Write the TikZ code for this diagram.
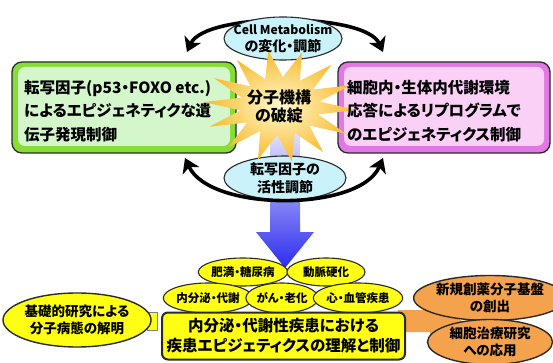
\documentclass[tikz,border=0pt]{standalone}
\usepackage{fontspec}
\setmainfont{Noto Sans CJK JP}[RawFeature={+palt}]
\usetikzlibrary{shapes.geometric,arrows.meta}
\definecolor{gband}{HTML}{86DE34}
\definecolor{gpale}{HTML}{D3F7CB}
\definecolor{pband}{HTML}{E278E4}
\definecolor{ppale}{HTML}{FAD0F7}
\definecolor{cyanfill}{HTML}{C9F2FA}
\definecolor{yfill}{HTML}{FFFF14}
\definecolor{ofill}{HTML}{F5A24C}
\definecolor{starin}{HTML}{FFF9D0}
\definecolor{starout}{HTML}{F8BA2C}
\definecolor{bluetop}{HTML}{ECECFF}
\definecolor{bluebot}{HTML}{2C2CEE}
\definecolor{dark}{HTML}{2A2A2A}
\tikzset{
  outerbox/.style={rounded corners=10pt, draw=dark, line width=1.3pt, inner sep=0pt},
  innerbox/.style={rounded corners=7pt, inner sep=0pt},
  ell/.style={ellipse, draw=dark, line width=1.1pt, inner sep=0pt},
  bendarrow/.style={line width=3.6pt, black, {Stealth[length=14pt,width=18pt,inset=4pt]}-{Stealth[length=14pt,width=18pt,inset=4pt]}},
  txt/.style={align=center, inner sep=0pt},
  boxtxt/.style={align=left, inner sep=0pt, font=\fontsize{15.5}{23.5}\selectfont\bfseries},
}
\begin{document}
\begin{tikzpicture}[x=1pt,y=-1pt]
\useasboundingbox (0,0) rectangle (553,363);
% blue arrow
\shade[top color=bluetop, bottom color=bluebot] (270,125) -- (300,125) -- (300,232) -- (314,232) -- (285,268) -- (256,232) -- (270,232) -- cycle;
% green box
\node[outerbox, fill=gband, minimum width=224pt, minimum height=91pt] (gb) at (124,107.5) {};
\node[innerbox, fill=gpale, minimum width=212pt, minimum height=79pt] (gi) at (124,106.5) {};
% pink box
\node[outerbox, fill=pband, minimum width=212pt, minimum height=91pt] (pb) at (444,107.5) {};
\node[innerbox, fill=ppale, minimum width=200pt, minimum height=79pt] (pi) at (444,106.5) {};
% top arc
\draw[bendarrow] (187,52) .. controls (205,12) and (365,12) .. (383,52);
% ellipses
\node[ell, fill=cyanfill, minimum width=118pt, minimum height=43pt] (te) at (283,38.5) {};
\node[ell, fill=cyanfill, minimum width=122pt, minimum height=44pt] (be) at (285,178) {};
% lower arc
\draw[bendarrow] (185,158) .. controls (210,212) and (360,212) .. (383,158);
% star
\shade[inner color=starin, outer color=starout]
  plot[samples at={0,...,27}, variable=\k]
  ({280 + (mod(\k,2)==0 ? 76 : 40)*cos(\k*180/14 + 4)},
   {106 + (mod(\k,2)==0 ? 56 : 29)*sin(\k*180/14 + 4)}) -- cycle;
\node[txt, font=\fontsize{16}{18}\selectfont\bfseries] (st) at (279,106) {分子機構\\の破綻};
% ellipse texts
\node[txt, font=\fontsize{12.2}{17}\selectfont\bfseries] (tet) at (te) {Cell Metabolism\\{\fontsize{14}{17}\selectfont の変化・調節}};
\node[txt, font=\fontsize{14}{18}\selectfont\bfseries] (bet) at (be) {転写因子の\\活性調節};
% box texts
\node[boxtxt, anchor=west] (gt) at (24,111) {転写因子(p53・FOXO etc.)\\によるエピジェネティクな遺\\伝子発現制御};
\node[boxtxt, anchor=west] (pt) at (347,111) {細胞内・生体内代謝環境\\応答によるリプログラムで\\のエピジェネティクス制御};
% orange arrow
\fill[ofill] (398,310) -- (430,310) -- (430,299) -- (462,321) -- (430,343) -- (430,332) -- (398,332) -- cycle;
% small ovals
\node[ell, fill=yfill, minimum width=80pt, minimum height=28pt, font=\fontsize{11.5}{13}\selectfont\bfseries] (o1) at (243,272) {肥満・糖尿病};
\node[ell, fill=yfill, minimum width=78pt, minimum height=28pt, font=\fontsize{11.5}{13}\selectfont\bfseries] (o2) at (326,272) {動脈硬化};
\node[ell, fill=yfill, minimum width=78pt, minimum height=30pt, font=\fontsize{11.5}{13}\selectfont\bfseries] (o3) at (208,298) {内分泌・代謝};
\node[ell, fill=yfill, minimum width=70pt, minimum height=30pt, font=\fontsize{11.5}{13}\selectfont\bfseries] (o4) at (282,298) {がん・老化};
\node[ell, fill=yfill, minimum width=85pt, minimum height=30pt, font=\fontsize{11.5}{13}\selectfont\bfseries] (o5) at (358,298) {心・血管疾患};
% main yellow box
\node[rounded corners=6pt, draw=dark, line width=2pt, fill=yfill, minimum width=243pt, minimum height=47pt, txt, font=\fontsize{15.5}{20}\selectfont\bfseries] (yb) at (283.5,336) {内分泌・代謝性疾患における\\疾患エピジェティクスの理解と制御};
% small square
\node[draw=black!50, fill=yfill, line width=0.6pt, minimum width=10pt, minimum height=18pt, inner sep=0pt] (sq) at (152,321) {};
% left ellipse
\node[ell, fill=yfill, line width=1.4pt, minimum width=126pt, minimum height=54pt, txt, font=\fontsize{13.5}{17}\selectfont\bfseries] (le) at (77,320) {基礎的研究による\\分子病態の解明};
% right ellipses
\node[ell, fill=ofill, line width=1.4pt, minimum width=125pt, minimum height=45pt, txt, font=\fontsize{13.5}{17}\selectfont\bfseries] (r1) at (490,298) {新規創薬分子基盤\\の創出};
\node[ell, fill=ofill, line width=1.4pt, minimum width=125pt, minimum height=45pt, txt, font=\fontsize{13.5}{17}\selectfont\bfseries] (r2) at (490,342) {細胞治療研究\\への応用};
\end{tikzpicture}
\end{document}
